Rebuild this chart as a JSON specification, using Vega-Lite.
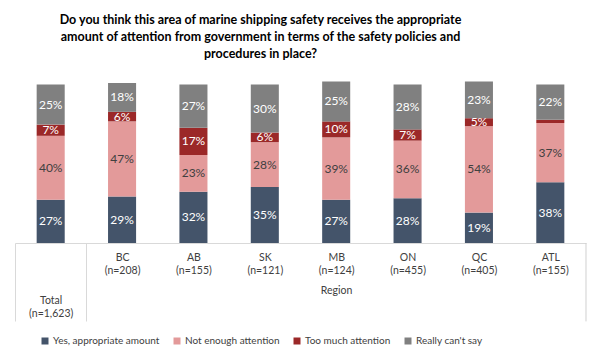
{
  "$schema": "https://vega.github.io/schema/vega-lite/v6.json",
  "width": 571,
  "height": 160,
  "autosize": {"type": "none"},
  "padding": {"left": 15, "top": 83, "right": 16, "bottom": 117},
  "background": "white",
  "title": {
    "text": ["Do you think this area of marine shipping safety receives the appropriate", "amount of attention from government in terms of the safety policies and", "procedures in place?"],
    "font": "Lato",
    "fontSize": 12.5,
    "fontWeight": "bold",
    "color": "#000000",
    "anchor": "middle",
    "frame": "group",
    "dx": -40,
    "offset": 21,
    "lineHeight": 17
  },
  "config": {
    "view": {"stroke": null},
    "font": "Lato"
  },
  "data": {
    "values": [
      {"cat": "Total (n=1,623)", "answer": "Yes, appropriate amount", "order": 1, "value": 27},
      {"cat": "Total (n=1,623)", "answer": "Not enough attention", "order": 2, "value": 40},
      {"cat": "Total (n=1,623)", "answer": "Too much attention", "order": 3, "value": 7},
      {"cat": "Total (n=1,623)", "answer": "Really can't say", "order": 4, "value": 25},
      {"cat": "BC (n=208)", "answer": "Yes, appropriate amount", "order": 1, "value": 29},
      {"cat": "BC (n=208)", "answer": "Not enough attention", "order": 2, "value": 47},
      {"cat": "BC (n=208)", "answer": "Too much attention", "order": 3, "value": 6},
      {"cat": "BC (n=208)", "answer": "Really can't say", "order": 4, "value": 18},
      {"cat": "AB (n=155)", "answer": "Yes, appropriate amount", "order": 1, "value": 32},
      {"cat": "AB (n=155)", "answer": "Not enough attention", "order": 2, "value": 23},
      {"cat": "AB (n=155)", "answer": "Too much attention", "order": 3, "value": 17},
      {"cat": "AB (n=155)", "answer": "Really can't say", "order": 4, "value": 27},
      {"cat": "SK (n=121)", "answer": "Yes, appropriate amount", "order": 1, "value": 35},
      {"cat": "SK (n=121)", "answer": "Not enough attention", "order": 2, "value": 28},
      {"cat": "SK (n=121)", "answer": "Too much attention", "order": 3, "value": 6},
      {"cat": "SK (n=121)", "answer": "Really can't say", "order": 4, "value": 30},
      {"cat": "MB (n=124)", "answer": "Yes, appropriate amount", "order": 1, "value": 27},
      {"cat": "MB (n=124)", "answer": "Not enough attention", "order": 2, "value": 39},
      {"cat": "MB (n=124)", "answer": "Too much attention", "order": 3, "value": 10},
      {"cat": "MB (n=124)", "answer": "Really can't say", "order": 4, "value": 25},
      {"cat": "ON (n=455)", "answer": "Yes, appropriate amount", "order": 1, "value": 28},
      {"cat": "ON (n=455)", "answer": "Not enough attention", "order": 2, "value": 36},
      {"cat": "ON (n=455)", "answer": "Too much attention", "order": 3, "value": 7},
      {"cat": "ON (n=455)", "answer": "Really can't say", "order": 4, "value": 28},
      {"cat": "QC (n=405)", "answer": "Yes, appropriate amount", "order": 1, "value": 19},
      {"cat": "QC (n=405)", "answer": "Not enough attention", "order": 2, "value": 54},
      {"cat": "QC (n=405)", "answer": "Too much attention", "order": 3, "value": 5},
      {"cat": "QC (n=405)", "answer": "Really can't say", "order": 4, "value": 23},
      {"cat": "ATL (n=155)", "answer": "Yes, appropriate amount", "order": 1, "value": 38},
      {"cat": "ATL (n=155)", "answer": "Not enough attention", "order": 2, "value": 37},
      {"cat": "ATL (n=155)", "answer": "Too much attention", "order": 3, "value": 2},
      {"cat": "ATL (n=155)", "answer": "Really can't say", "order": 4, "value": 22}
    ]
  },
  "transform": [
    {"stack": "value", "groupby": ["cat"], "sort": [{"field": "order", "order": "ascending"}], "as": ["v0", "v1"]},
    {"calculate": "(datum.v0 + datum.v1) / 2", "as": "mid"},
    {"calculate": "datum.value + '%'", "as": "pct"}
  ],
  "encoding": {
    "x": {
      "field": "cat",
      "type": "nominal",
      "sort": null,
      "scale": {"paddingInner": 0.607, "paddingOuter": 0.3035},
      "axis": {
        "title": "Region",
        "titleFont": "Lato",
        "titleFontSize": 10.5,
        "titleFontWeight": "normal",
        "titleColor": "#404040",
        "titleX": 321,
        "titleY": 47,
        "titleBaseline": "middle",
        "labelExpr": "split(datum.value, ' ')",
        "labelAngle": 0,
        "labelFont": "Lato",
        "labelFontSize": 10.5,
        "labelColor": "#404040",
        "labelLineHeight": 13.5,
        "labelBaseline": "top",
        "labelPadding": {"condition": {"test": "datum.value == 'Total (n=1,623)'", "value": -26}, "value": -69},
        "labelOffset": 35.69,
        "labelOverlap": false,
        "labelBound": false,
        "domainColor": "#D9D9D9",
        "domainWidth": 1,
        "tickSize": 78,
        "tickWidth": 1,
        "tickOffset": -35.69,
        "tickColor": {"condition": {"test": "datum.value == 'Total (n=1,623)' || datum.value == 'BC (n=208)'", "value": "#D9D9D9"}, "value": "transparent"}
      }
    }
  },
  "layer": [
    {
      "mark": {"type": "bar"},
      "encoding": {
        "y": {"field": "v0", "type": "quantitative", "scale": {"domain": [0, 100], "nice": false}, "axis": null},
        "y2": {"field": "v1"},
        "color": {
          "field": "answer",
          "type": "nominal",
          "scale": {
            "domain": ["Yes, appropriate amount", "Not enough attention", "Too much attention", "Really can't say"],
            "range": ["#44546A", "#E39A9A", "#9B2828", "#808080"]
          },
          "legend": {
            "title": null,
            "orient": "none",
            "legendX": 25,
            "legendY": 253,
            "direction": "horizontal",
            "symbolType": "square",
            "symbolSize": 49,
            "symbolStrokeWidth": 0,
            "labelFont": "Lato",
            "labelFontSize": 10,
            "labelColor": "#404040",
            "labelOffset": 3,
            "columnPadding": 12
          }
        }
      }
    },
    {
      "transform": [{"filter": "datum.value >= 4"}],
      "mark": {"type": "text", "font": "Lato", "fontSize": 12, "baseline": "middle", "align": "center"},
      "encoding": {
        "y": {"field": "mid", "type": "quantitative"},
        "text": {"field": "pct", "type": "nominal"},
        "color": {
          "condition": {"test": "datum.answer == 'Not enough attention'", "value": "#404040"},
          "value": "#FFFFFF"
        }
      }
    },
    {
      "transform": [{"filter": "datum.cat == 'ATL (n=155)' && datum.order == 4"}],
      "mark": {"type": "rule", "color": "#D0D0D0", "strokeWidth": 1, "xOffset": 21.66},
      "encoding": {
        "x": {"field": "cat", "type": "nominal", "bandPosition": 1},
        "y": {"datum": 0},
        "y2": {"datum": -49}
      }
    }
  ]
}
